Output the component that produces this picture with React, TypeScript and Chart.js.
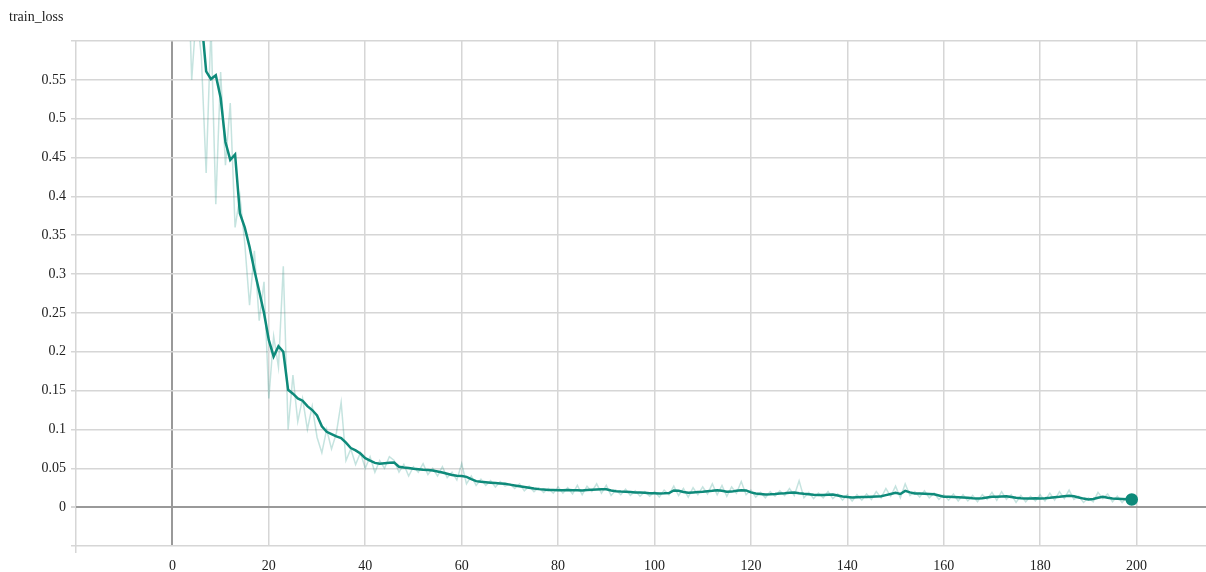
import React, { useEffect, useRef } from "react";
import { Chart, registerables } from "chart.js";

Chart.register(...registerables);

const TITLE = "train_loss";

const X_TICKS = [-20, 0, 20, 40, 60, 80, 100, 120, 140, 160, 180, 200];
const Y_TICKS = [-0.05, 0, 0.05, 0.1, 0.15, 0.2, 0.25, 0.3, 0.35, 0.4, 0.45, 0.5, 0.55, 0.6];
const HIDDEN_X_LABELS = [-20];
const HIDDEN_Y_LABELS = [-0.05, 0.6];

// Smoothed train loss, epochs 0..199
const SMOOTHED = [
  1.2, 1.05, 0.93, 0.82, 0.74, 0.68, 0.63, 0.561, 0.551, 0.556,
  0.527, 0.47, 0.447, 0.454, 0.378, 0.36, 0.335, 0.305, 0.278, 0.25,
  0.215, 0.194, 0.207, 0.2, 0.151, 0.146, 0.14, 0.137, 0.13, 0.125,
  0.118, 0.104, 0.097, 0.094, 0.091, 0.089, 0.083, 0.076, 0.073, 0.069,
  0.063, 0.06, 0.057, 0.056, 0.0565, 0.057, 0.0575, 0.052, 0.051, 0.0505,
  0.0495, 0.0487, 0.048, 0.0477, 0.0473, 0.046, 0.0445, 0.043, 0.0413, 0.0405,
  0.04, 0.039, 0.036, 0.0335, 0.0326, 0.032, 0.0315, 0.031, 0.0305, 0.03,
  0.029, 0.028, 0.027, 0.026, 0.025, 0.024, 0.0232, 0.0228, 0.0222, 0.022,
  0.0219, 0.0219, 0.022, 0.0218, 0.0219, 0.0215, 0.022, 0.0225, 0.0228, 0.0232,
  0.023, 0.0215, 0.0206, 0.02, 0.0198, 0.0195, 0.019, 0.019, 0.0185, 0.018,
  0.0178, 0.0177, 0.0178, 0.0182, 0.0215, 0.021, 0.0195, 0.0185, 0.019, 0.0195,
  0.0198, 0.0205, 0.021, 0.0219, 0.021, 0.0198, 0.02, 0.021, 0.0219, 0.0215,
  0.019, 0.0177, 0.017, 0.0163, 0.0165, 0.017, 0.0177, 0.018, 0.0185, 0.019,
  0.018, 0.0172, 0.0167, 0.016, 0.0155, 0.0158, 0.016, 0.0163, 0.015, 0.0138,
  0.013, 0.0125, 0.0128, 0.013, 0.013, 0.0133, 0.0137, 0.014, 0.0155, 0.017,
  0.0185, 0.017, 0.021, 0.019, 0.0177, 0.0177, 0.0172, 0.0168, 0.0165, 0.015,
  0.0135, 0.0133, 0.013, 0.0127, 0.0125, 0.012, 0.0115, 0.0112, 0.0115, 0.0125,
  0.0133, 0.0135, 0.0138, 0.014, 0.013, 0.012, 0.0115, 0.0112, 0.0112, 0.0113,
  0.0112, 0.0115, 0.012, 0.0128, 0.0133, 0.014, 0.0146, 0.014, 0.0125, 0.011,
  0.01, 0.0105, 0.012, 0.0133, 0.012, 0.0112, 0.0108, 0.0105, 0.0102, 0.0099,
];

// Raw (unsmoothed) train loss, epochs 0..199
const RAW = [
  1.3, 0.95, 0.9, 0.75, 0.55, 0.64, 0.58, 0.43, 0.62, 0.39,
  0.56, 0.44, 0.52, 0.36, 0.4, 0.34, 0.26, 0.33, 0.24, 0.29,
  0.14, 0.22, 0.18, 0.31, 0.1, 0.17, 0.11, 0.14, 0.1, 0.13,
  0.09, 0.07, 0.1, 0.075, 0.095, 0.135, 0.06, 0.075, 0.055, 0.07,
  0.05, 0.065, 0.045, 0.06, 0.05, 0.065, 0.06, 0.045, 0.055, 0.04,
  0.052, 0.045, 0.056, 0.042, 0.05, 0.04, 0.052, 0.038, 0.045, 0.035,
  0.056, 0.03, 0.04, 0.028, 0.036, 0.028, 0.034, 0.026, 0.033, 0.027,
  0.03, 0.024, 0.03, 0.021, 0.027, 0.02, 0.025, 0.019, 0.024, 0.018,
  0.026, 0.018, 0.025, 0.017, 0.028, 0.016, 0.027, 0.02, 0.03, 0.018,
  0.028, 0.015, 0.022, 0.016, 0.023, 0.015, 0.021, 0.014, 0.02, 0.014,
  0.02, 0.013, 0.022, 0.016, 0.027, 0.015, 0.024, 0.013, 0.025, 0.016,
  0.026, 0.017, 0.03, 0.016, 0.028, 0.014, 0.026, 0.018, 0.033, 0.016,
  0.022, 0.013, 0.019, 0.012, 0.02, 0.014, 0.021, 0.015, 0.024, 0.015,
  0.034, 0.012, 0.019, 0.011, 0.018, 0.012, 0.02, 0.011, 0.017, 0.009,
  0.016, 0.008, 0.016, 0.009, 0.017, 0.01, 0.02, 0.012, 0.024, 0.014,
  0.027, 0.012, 0.03, 0.015, 0.02, 0.013, 0.021, 0.012, 0.018, 0.01,
  0.016, 0.009, 0.017, 0.008, 0.016, 0.008, 0.015, 0.007, 0.016, 0.01,
  0.019, 0.009, 0.02, 0.01, 0.016, 0.006, 0.015, 0.007, 0.014, 0.008,
  0.016, 0.008, 0.018, 0.009, 0.02, 0.011, 0.022, 0.01, 0.014, 0.006,
  0.012, 0.007, 0.019, 0.011, 0.017, 0.007, 0.014, 0.006, 0.013, 0.009,
];

const EPOCHS = SMOOTHED.map((_, i) => i);

const FONT = "'Liberation Serif', 'Times New Roman', serif";
const GRID = "#d6d6d6";
const ZERO = "#999999";
const LINE = "#0e8a7a";
const RAW_LINE = "rgba(14,138,122,0.24)";

export default function App() {
  const ref = useRef<HTMLCanvasElement | null>(null);

  useEffect(() => {
    if (!ref.current) return;
    const last = SMOOTHED.length - 1;
    const chart = new Chart(ref.current, {
      type: "line",
      data: {
        datasets: [
          {
            label: "smoothed",
            data: EPOCHS.map((x, i) => ({ x, y: SMOOTHED[i] })),
            borderColor: LINE,
            backgroundColor: LINE,
            borderWidth: 2.5,
            pointRadius: (c: any) => (c.dataIndex === last ? 5 : 0),
            pointHoverRadius: 0,
            tension: 0,
            order: 0,
          },
          {
            label: "raw",
            data: EPOCHS.map((x, i) => ({ x, y: RAW[i] })),
            borderColor: RAW_LINE,
            borderWidth: 1.5,
            pointRadius: 0,
            tension: 0,
            order: 1,
          },
        ],
      },
      options: {
        animation: false,
        responsive: false,
        events: [],
        layout: { autoPadding: false, padding: { top: 41, left: 0, right: 0, bottom: 0 } },
        plugins: {
          legend: { display: false },
          tooltip: { enabled: false },
          title: { display: false },
        },
        scales: {
          x: {
            type: "linear",
            min: -20,
            max: 214.4,
            afterBuildTicks: (s: any) => {
              s.ticks = X_TICKS.map((v) => ({ value: v }));
            },
            afterFit: (s: any) => {
              s.height = 26;
              s.paddingLeft = 0;
              s.paddingRight = 0;
            },
            border: { display: false },
            grid: {
              color: (c: any) => (c.tick && c.tick.value === 0 ? ZERO : GRID),
              lineWidth: (c: any) => (c.tick && c.tick.value === 0 ? 2 : 1.5),
              tickColor: (c: any) =>
                c.tick && c.tick.value === -20 ? GRID : "rgba(0,0,0,0)",
              tickLength: 7,
              drawTicks: true,
            },
            ticks: {
              autoSkip: false,
              maxRotation: 0,
              padding: 5,
              color: "#222",
              font: { family: FONT, size: 14 },
              callback: (v: any) => (HIDDEN_X_LABELS.includes(v) ? "" : String(v)),
            },
          },
          y: {
            type: "linear",
            min: -0.05,
            max: 0.6,
            afterBuildTicks: (s: any) => {
              s.ticks = Y_TICKS.map((v) => ({ value: v }));
            },
            afterFit: (s: any) => {
              s.width = 76;
              s.paddingTop = 0;
              s.paddingBottom = 0;
            },
            border: { display: false },
            grid: {
              color: (c: any) =>
                c.tick && Math.abs(c.tick.value) < 1e-9 ? ZERO : GRID,
              lineWidth: (c: any) =>
                c.tick && Math.abs(c.tick.value) < 1e-9 ? 2 : 1.5,
              tickColor: GRID,
              tickLength: 5,
              drawTicks: true,
            },
            ticks: {
              autoSkip: false,
              padding: 5,
              color: "#222",
              font: { family: FONT, size: 14 },
              callback: (v: any) => {
                const n = Number(v);
                if (HIDDEN_Y_LABELS.some((h) => Math.abs(h - n) < 1e-9)) return "";
                return String(Math.round(n * 100) / 100);
              },
            },
          },
        },
      },
    });
    return () => chart.destroy();
  }, []);

  return (
    <div
      style={{
        position: "fixed",
        left: 0,
        top: 0,
        width: 1206,
        height: 572,
        background: "#fff",
        overflow: "hidden",
      }}
    >
      <canvas ref={ref} width={1206} height={572} style={{ width: 1206, height: 572, display: "block" }} />
      <div
        style={{
          position: "absolute",
          left: 9,
          top: 9,
          fontFamily: FONT,
          fontSize: 14,
          color: "#222",
          lineHeight: "normal",
        }}
      >
        {TITLE}
      </div>
    </div>
  );
}
